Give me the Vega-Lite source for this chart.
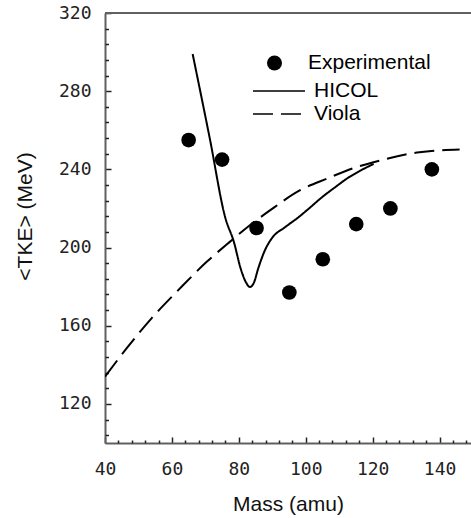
{
  "$schema": "https://vega.github.io/schema/vega-lite/v6.json",
  "autosize": "none",
  "padding": {"left": 105, "top": 13, "right": 0, "bottom": 75},
  "width": 366,
  "height": 430,
  "background": "white",
  "data": {
    "values": [
      {"series": "Experimental", "mass": 65, "tke": 255},
      {"series": "Experimental", "mass": 75, "tke": 245},
      {"series": "Experimental", "mass": 85.3, "tke": 210},
      {"series": "Experimental", "mass": 95.1, "tke": 177},
      {"series": "Experimental", "mass": 105.1, "tke": 194},
      {"series": "Experimental", "mass": 115.1, "tke": 212},
      {"series": "Experimental", "mass": 125.3, "tke": 220},
      {"series": "Experimental", "mass": 137.7, "tke": 240},
      {"series": "HICOL", "mass": 66.2, "tke": 299},
      {"series": "HICOL", "mass": 71.3, "tke": 256},
      {"series": "HICOL", "mass": 76.0, "tke": 215},
      {"series": "HICOL", "mass": 78.5, "tke": 203},
      {"series": "HICOL", "mass": 80.6, "tke": 189},
      {"series": "HICOL", "mass": 82.2, "tke": 182},
      {"series": "HICOL", "mass": 83.3, "tke": 179.8},
      {"series": "HICOL", "mass": 84.5, "tke": 182},
      {"series": "HICOL", "mass": 85.8, "tke": 189.3},
      {"series": "HICOL", "mass": 87.8, "tke": 198.6},
      {"series": "HICOL", "mass": 89.8, "tke": 204.6},
      {"series": "HICOL", "mass": 93.9, "tke": 210.5},
      {"series": "HICOL", "mass": 97.9, "tke": 215.6},
      {"series": "HICOL", "mass": 100.9, "tke": 219.9},
      {"series": "HICOL", "mass": 104.9, "tke": 225.8},
      {"series": "HICOL", "mass": 108.9, "tke": 231},
      {"series": "HICOL", "mass": 112.5, "tke": 235.5},
      {"series": "HICOL", "mass": 116.5, "tke": 239.5},
      {"series": "HICOL", "mass": 120.3, "tke": 242.8},
      {"series": "Viola", "mass": 40, "tke": 134},
      {"series": "Viola", "mass": 46.5, "tke": 148.5},
      {"series": "Viola", "mass": 53.9, "tke": 163.8},
      {"series": "Viola", "mass": 61.9, "tke": 178.2},
      {"series": "Viola", "mass": 70.4, "tke": 192.7},
      {"series": "Viola", "mass": 77.3, "tke": 202.9},
      {"series": "Viola", "mass": 83.3, "tke": 211.4},
      {"series": "Viola", "mass": 89.3, "tke": 219},
      {"series": "Viola", "mass": 98.2, "tke": 229.2},
      {"series": "Viola", "mass": 106.7, "tke": 235.5},
      {"series": "Viola", "mass": 114, "tke": 240.5},
      {"series": "Viola", "mass": 122.1, "tke": 244.5},
      {"series": "Viola", "mass": 134, "tke": 248.8},
      {"series": "Viola", "mass": 146, "tke": 250.2}
    ]
  },
  "layer": [
    {
      "mark": {"type": "rule", "color": "#606060", "strokeWidth": 2},
      "encoding": {"y": {"datum": 320, "type": "quantitative", "axis": null}}
    },
    {
      "transform": [{"filter": "datum.series !== 'Experimental'"}],
      "mark": {"type": "line", "color": "black", "strokeWidth": 2, "interpolate": "monotone", "clip": true},
      "encoding": {
        "x": {
          "field": "mass",
          "type": "quantitative",
          "scale": {"domain": [40, 149.4], "nice": false, "zero": false},
          "axis": {
            "orient": "bottom",
            "title": "Mass (amu)",
            "values": [40, 60, 80, 100, 120, 140],
            "tickSize": -6,
            "labelPadding": 23,
            "labelFlush": false,
            "labelOverlap": false,
            "titlePadding": 15
          }
        },
        "y": {
          "field": "tke",
          "type": "quantitative",
          "scale": {"domain": [100, 320], "nice": false, "zero": false},
          "axis": {
            "orient": "left",
            "title": "<TKE>  (MeV)",
            "values": [120, 160, 200, 240, 280, 320],
            "tickSize": -6,
            "labelPadding": 20,
            "labelFlush": false,
            "labelOverlap": false,
            "titleX": -74,
            "titleY": 203,
            "titleFontSize": 21,
            "titleBaseline": "alphabetic"
          }
        },
        "strokeDash": {
          "field": "series",
          "type": "nominal",
          "scale": {"domain": ["HICOL", "Viola"], "range": [[1, 0], [20, 8]]},
          "legend": {
            "title": null,
            "orient": "none",
            "legendX": 147,
            "legendY": 68,
            "padding": 0,
            "symbolType": "stroke",
            "symbolSize": 2704,
            "symbolStrokeWidth": 1.6,
            "symbolStrokeColor": "black",
            "clipHeight": 20,
            "rowPadding": 2,
            "labelOffset": 8,
            "labelFont": "Liberation Sans",
            "labelFontSize": 21,
            "labelColor": "black"
          }
        }
      }
    },
    {
      "transform": [{"filter": "datum.series === 'Experimental'"}],
      "mark": {"type": "point", "filled": true, "color": "black", "opacity": 1, "size": 215},
      "encoding": {
        "x": {
          "field": "mass",
          "type": "quantitative",
          "scale": {"domain": [40, 149.4], "nice": false, "zero": false},
          "axis": {
            "orient": "bottom",
            "title": null,
            "values": [44, 48, 52, 56, 64, 68, 72, 76, 84, 88, 92, 96, 104, 108, 112, 116, 124, 128, 132, 136, 144, 148],
            "labels": false,
            "domain": false,
            "tickSize": -3
          }
        },
        "y": {
          "field": "tke",
          "type": "quantitative",
          "scale": {"domain": [100, 320], "nice": false, "zero": false},
          "axis": {
            "orient": "left",
            "title": null,
            "values": [104, 112, 128, 136, 144, 152, 168, 176, 184, 192, 208, 216, 224, 232, 248, 256, 264, 272, 288, 296, 304, 312],
            "labels": false,
            "domain": false,
            "tickSize": -3.5
          }
        },
        "shape": {
          "field": "series",
          "type": "nominal",
          "scale": {"domain": ["Experimental"], "range": ["circle"]},
          "legend": {
            "title": null,
            "orient": "none",
            "legendX": 159,
            "legendY": 40,
            "padding": 0,
            "symbolSize": 225,
            "symbolFillColor": "black",
            "clipHeight": 20,
            "labelOffset": 23,
            "labelFont": "Liberation Sans",
            "labelFontSize": 21,
            "labelColor": "black"
          }
        }
      }
    }
  ],
  "resolve": {"axis": {"x": "independent", "y": "independent"}},
  "config": {
    "view": {"stroke": null},
    "axis": {
      "grid": false,
      "labelFont": "DejaVu Sans Mono",
      "labelFontSize": 18,
      "labelColor": "#222",
      "domainColor": "#606060",
      "domainWidth": 2,
      "tickColor": "#222",
      "tickWidth": 1.5,
      "titleFont": "Liberation Sans",
      "titleFontSize": 21,
      "titleFontWeight": "normal",
      "titleColor": "#111"
    }
  }
}
